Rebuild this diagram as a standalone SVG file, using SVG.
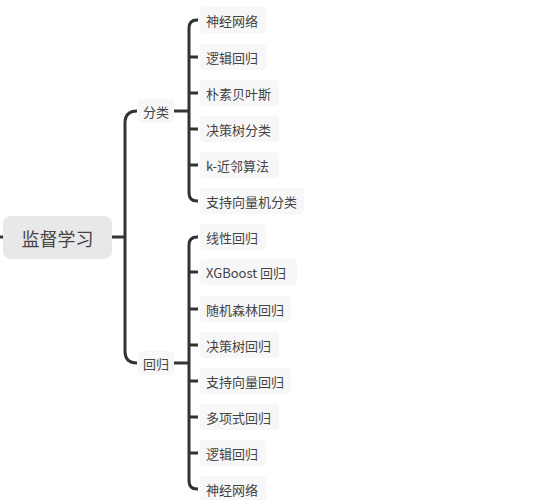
<svg xmlns="http://www.w3.org/2000/svg" width="534" height="500" viewBox="0 0 534 500">
<style>
.c{fill:none;stroke:#333;stroke-width:3;stroke-linecap:butt}
.lb{fill:#f7f7f7}
.t{font-family:"Noto Sans CJK SC","Microsoft YaHei",sans-serif;font-size:13px;fill:#444;dominant-baseline:central}
.rt{font-family:"Noto Sans CJK SC","Microsoft YaHei",sans-serif;font-size:18px;fill:#444;dominant-baseline:central;text-anchor:middle}
</style>
<rect width="534" height="500" fill="#fff"/>
<g id="connectors">
<path class="c" d="M0,237 H3"/>
<path class="c" d="M112,237 H125"/>
<path class="c" d="M137,111 Q125,111 125,123 V351 Q125,363 137,363"/>
<path class="c" d="M174,111 H189"/>
<path class="c" d="M198,20 H197 Q189,20 189,28 V193 Q189,201 197,201 H198"/>
<path class="c" d="M189,57 H198 M189,93 H198 M189,129 H198 M189,165 H198"/>
<path class="c" d="M174,363 H189"/>
<path class="c" d="M198,237 H197 Q189,237 189,245 V481 Q189,489 197,489 H198"/>
<path class="c" d="M189,272 H198 M189,309 H198 M189,345 H198 M189,381 H198 M189,417 H198 M189,453 H198"/>
</g>
<g id="root">
<rect x="3" y="216" width="109" height="43" rx="8" fill="#e8e8e8"/>
<text class="rt" x="57.5" y="237.5">监督学习</text>
</g>
<g id="n-fenlei">
<rect class="lb" x="138" y="99" width="36" height="24" rx="4"/>
<text class="t" x="143" y="111">分类</text>
</g>
<g id="n-huigui">
<rect class="lb" x="138" y="351" width="36" height="24" rx="4"/>
<text class="t" x="143" y="363">回归</text>
</g>
<g id="c1"><rect class="lb" x="200" y="7" width="66" height="26" rx="4"/><text class="t" x="206" y="20">神经网络</text></g>
<g id="c2"><rect class="lb" x="200" y="44" width="66" height="26" rx="4"/><text class="t" x="206" y="57">逻辑回归</text></g>
<g id="c3"><rect class="lb" x="200" y="80" width="79" height="26" rx="4"/><text class="t" x="206" y="93">朴素贝叶斯</text></g>
<g id="c4"><rect class="lb" x="200" y="116" width="79" height="26" rx="4"/><text class="t" x="206" y="129">决策树分类</text></g>
<g id="c5"><rect class="lb" x="200" y="152" width="79" height="26" rx="4"/><text class="t" x="206" y="165">k-近邻算法</text></g>
<g id="c6"><rect class="lb" x="200" y="188" width="104" height="26" rx="4"/><text class="t" x="206" y="201">支持向量机分类</text></g>
<g id="r1"><rect class="lb" x="200" y="224" width="66" height="26" rx="4"/><text class="t" x="206" y="237">线性回归</text></g>
<g id="r2"><rect class="lb" x="200" y="259" width="97" height="26" rx="4"/><text class="t" x="206" y="272">XGBoost 回归</text></g>
<g id="r3"><rect class="lb" x="200" y="296" width="91" height="26" rx="4"/><text class="t" x="206" y="309">随机森林回归</text></g>
<g id="r4"><rect class="lb" x="200" y="332" width="79" height="26" rx="4"/><text class="t" x="206" y="345">决策树回归</text></g>
<g id="r5"><rect class="lb" x="200" y="368" width="91" height="26" rx="4"/><text class="t" x="206" y="381">支持向量回归</text></g>
<g id="r6"><rect class="lb" x="200" y="404" width="79" height="26" rx="4"/><text class="t" x="206" y="417">多项式回归</text></g>
<g id="r7"><rect class="lb" x="200" y="440" width="66" height="26" rx="4"/><text class="t" x="206" y="453">逻辑回归</text></g>
<g id="r8"><rect class="lb" x="200" y="476" width="66" height="26" rx="4"/><text class="t" x="206" y="489">神经网络</text></g>
</svg>
